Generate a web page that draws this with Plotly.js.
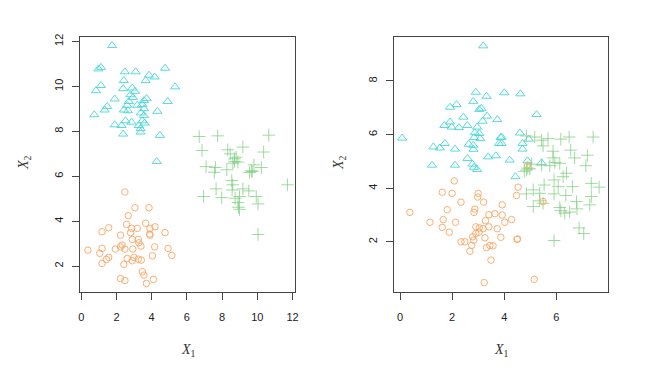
<!DOCTYPE html>
<html>
<head>
<meta charset="utf-8">
<script src="https://cdn.plot.ly/plotly-3.0.1.min.js"></script>
<style>html,body{margin:0;padding:0;background:#fff;}#chart{width:658px;height:373px;}</style>
</head>
<body>
<div id="chart"></div>
<script>
// ---- Left panel data ----
const leftTriX = [1.75,1.12,2.48,3.09,4.76,3.85,4.17,3.66,5.33,1.12,0.84,2.42,2.38,2.9,3.05,2.8,2.93,1.9,2.7,3.56,3.71,4.91,1.47,1.33,2.61,3.18,3.47,2.42,2.65,3.56,3.39,4.32,0.74,3.56,3.47,2.51,2.86,3.6,1.9,2.29,3.27,3.37,2.38,3.37,4.47,4.29,0.98];
const leftTriY = [11.82,10.85,10.65,10.65,10.81,10.5,10.42,10.26,9.98,10.04,9.81,10.26,9.9,9.93,9.78,9.63,9.51,9.44,9.33,9.37,9.46,9.33,9.11,8.95,9.16,9.16,9.19,8.95,8.92,9.01,8.82,8.89,8.74,8.71,8.47,8.47,8.41,8.37,8.29,8.26,8.26,8.12,7.88,7.97,7.82,6.66,10.78];

const leftCrossX = [6.70,7.75,10.65,6.86,8.32,9.18,8.46,10.36,8.70,8.90,8.61,7.09,7.62,8.27,7.56,9.81,9.66,9.56,10.23,8.55,8.61,7.66,8.57,9.18,9.52,6.95,7.98,8.74,8.99,9.94,8.90,10.04,8.93,8.99,11.71,10.04,8.7,8.8,9.71];
const leftCrossY = [7.77,7.80,7.83,7.15,7.18,7.30,7.0,7.08,6.78,6.63,6.58,6.43,6.39,6.29,6.18,6.51,6.25,6.17,6.39,5.81,5.62,5.44,5.39,5.44,5.35,5.10,5.05,5.02,5.10,5.10,4.83,4.77,4.62,4.53,5.62,3.41,6.66,6.85,6.21];

const leftCircX = [2.48,3.05,3.85,2.67,2.57,3.66,4.19,1.56,1.18,2.86,3.18,3.90,2.80,2.23,3.89,3.90,4.76,2.90,3.24,3.27,3.39,2.32,2.23,1.94,2.48,2.93,4.17,4.93,0.38,1.18,1.05,4.04,5.14,1.56,1.43,2.61,2.99,3.24,3.41,2.90,1.18,2.42,3.47,3.56,2.23,2.48,4.10,3.70];
const leftCircY = [5.30,4.60,4.60,4.25,3.86,3.91,3.75,3.71,3.53,3.68,3.68,3.68,3.49,3.38,3.43,3.38,3.49,3.19,3.19,3.04,2.89,2.94,2.86,2.76,2.76,2.76,2.86,2.79,2.71,2.79,2.57,2.46,2.48,2.39,2.30,2.34,2.39,2.31,2.27,2.24,2.12,2.08,1.75,1.60,1.45,1.36,1.41,1.23];

// ---- Right panel data ----
const rightTriX = [3.19,2.91,3.32,4.0,4.62,2.17,1.92,2.81,3.04,3.12,5.24,3.34,2.43,3.73,3.17,1.92,1.70,1.98,2.26,2.58,2.96,2.87,3.04,2.84,3.08,0.08,4.60,3.86,4.94,4.70,1.28,1.72,1.53,2.64,2.81,2.11,2.82,3.80,4.70,3.38,3.68,2.59,4.21,1.23,2.11,2.78,2.84,2.96,4.89,5.43,4.43,3.90,3.90];
const rightTriY = [9.31,7.58,7.43,7.56,7.52,7.12,7.02,7.24,6.94,6.98,6.75,6.69,6.65,6.56,6.50,6.47,6.34,6.28,6.26,6.34,6.28,6.07,6.04,5.89,5.85,5.87,6.06,5.89,5.83,5.67,5.54,5.67,5.50,5.64,5.60,5.46,5.45,5.67,5.46,5.17,5.21,5.11,5.05,4.86,4.86,4.90,4.78,4.70,5.02,4.95,4.43,5.91,5.67];

const rightCircX = [2.08,1.62,2.0,3.0,2.98,4.53,4.47,4.89,2.34,3.21,3.92,5.49,0.38,1.81,2.87,2.84,3.41,3.64,3.92,4.28,4.02,1.15,1.66,2.13,3.28,1.62,1.89,2.91,3.04,3.19,3.41,3.73,2.91,3.03,2.79,3.26,3.87,4.51,2.34,2.49,2.83,2.75,2.68,3.32,3.45,3.57,3.49,3.23,5.15,4.49];
const rightCircY = [4.27,3.85,3.81,3.81,3.67,4.04,3.73,4.86,3.48,3.48,3.38,3.50,3.10,3.20,3.22,3.10,3.01,3.05,3.00,2.83,2.73,2.73,2.83,2.73,2.79,2.54,2.36,2.56,2.52,2.49,2.56,2.49,2.31,2.36,2.19,2.15,2.17,2.11,2.00,2.00,2.06,1.87,1.65,1.78,1.86,1.85,1.32,0.48,0.60,2.09];

const rightCrossX = [4.85,5.17,5.43,5.68,6.17,6.49,7.41,5.49,5.87,6.55,6.70,7.19,5.87,7.13,5.94,6.13,5.05,5.43,5.75,4.85,6.39,6.26,5.91,5.53,6.07,6.62,7.34,7.64,5.11,4.85,5.36,5.91,6.36,7.34,6.77,5.36,5.49,5.11,6.13,7.28,6.79,6.17,6.32,6.51,6.87,7.05,5.91,4.77,4.90,4.98];
const rightCrossY = [5.95,5.91,5.79,5.85,5.83,5.91,5.91,5.58,5.38,5.42,5.13,5.23,5.13,4.84,4.96,4.93,4.90,4.86,4.84,4.68,4.56,4.43,4.31,4.12,4.06,4.06,4.18,4.04,3.94,3.79,3.81,3.79,3.73,3.69,3.50,3.53,3.44,3.32,3.28,3.38,3.23,3.16,3.07,3.11,2.52,2.31,2.05,4.63,4.75,4.72];

// ---- Ticks ----
const leftXTicks = [0,2,4,6,8,10,12];
const leftYTicks = [2,4,6,8,10,12];
const rightXTicks = [0,2,4,6];
const rightYTicks = [2,4,6,8];

const cyan = 'rgba(72,214,214,0.9)';
const orange = 'rgba(251,165,100,0.9)';
const green = 'rgba(130,205,130,0.75)';

function tri(x,y,xa,ya){return {x:x,y:y,xaxis:xa,yaxis:ya,type:'scatter',mode:'markers',marker:{symbol:'triangle-up-open',size:8,color:cyan,line:{width:1,color:cyan}},hoverinfo:'none'};}
function circ(x,y,xa,ya){return {x:x,y:y,xaxis:xa,yaxis:ya,type:'scatter',mode:'markers',marker:{symbol:'circle-open',size:6.5,color:orange,line:{width:1,color:orange}},hoverinfo:'none'};}
function cross(x,y,xa,ya){return {x:x,y:y,xaxis:xa,yaxis:ya,type:'scatter',mode:'markers',marker:{symbol:'cross-thin-open',size:9,color:green,line:{width:1,color:green}},hoverinfo:'none'};}

const data = [
  tri(leftTriX,leftTriY,'x','y'), cross(leftCrossX,leftCrossY,'x','y'), circ(leftCircX,leftCircY,'x','y'),
  tri(rightTriX,rightTriY,'x2','y2'), cross(rightCrossX,rightCrossY,'x2','y2'), circ(rightCircX,rightCircY,'x2','y2')
];

const tickFont = {family:'Liberation Sans, Arial, sans-serif', size:11, color:'#222'};
function ax(extra){return Object.assign({showline:true,mirror:true,linecolor:'#444',linewidth:1,ticks:'outside',ticklen:7,tickwidth:1,tickcolor:'#444',showgrid:false,zeroline:false,tickfont:tickFont,tickmode:'array'},extra);}

const ydom = [0.2172,0.9008];
const layout = {
  width:658, height:373,
  margin:{l:0,r:0,t:0,b:0},
  paper_bgcolor:'#fff', plot_bgcolor:'#fff',
  showlegend:false,
  xaxis: ax({domain:[0.1216,0.4483], range:[-0.07,12.14], tickvals:leftXTicks, ticktext:leftXTicks.map(String), ticklabelstandoff:8, anchor:'y'}),
  yaxis: ax({domain:ydom, range:[0.85,12.2], tickvals:leftYTicks, ticktext:leftYTicks.map(String), tickangle:-90, ticklabelstandoff:5, anchor:'x'}),
  xaxis2: ax({domain:[0.5988,0.924], range:[-0.23,7.98], tickvals:rightXTicks, ticktext:rightXTicks.map(String), ticklabelstandoff:8, anchor:'y2'}),
  yaxis2: ax({domain:ydom, range:[0.13,9.64], tickvals:rightYTicks, ticktext:rightYTicks.map(String), tickangle:-90, ticklabelstandoff:5, anchor:'x2'}),
  annotations: [
    {text:'<i>X</i><sub>1</sub>', xref:'paper', yref:'paper', x:188/658, y:(373-350)/373, showarrow:false, font:{family:'Liberation Serif, serif', size:14, color:'#333'}, xanchor:'center', yanchor:'middle'},
    {text:'<i>X</i><sub>1</sub>', xref:'paper', yref:'paper', x:501/658, y:(373-350)/373, showarrow:false, font:{family:'Liberation Serif, serif', size:14, color:'#333'}, xanchor:'center', yanchor:'middle'},
    {text:'<i>X</i><sub>2</sub>', xref:'paper', yref:'paper', x:25/658, y:(373-163)/373, showarrow:false, textangle:-90, font:{family:'Liberation Serif, serif', size:14, color:'#333'}, xanchor:'center', yanchor:'middle'},
    {text:'<i>X</i><sub>2</sub>', xref:'paper', yref:'paper', x:340/658, y:(373-163)/373, showarrow:false, textangle:-90, font:{family:'Liberation Serif, serif', size:14, color:'#333'}, xanchor:'center', yanchor:'middle'}
  ]
};

Plotly.newPlot('chart', data, layout, {staticPlot:true, displayModeBar:false});
</script>
</body>
</html>
